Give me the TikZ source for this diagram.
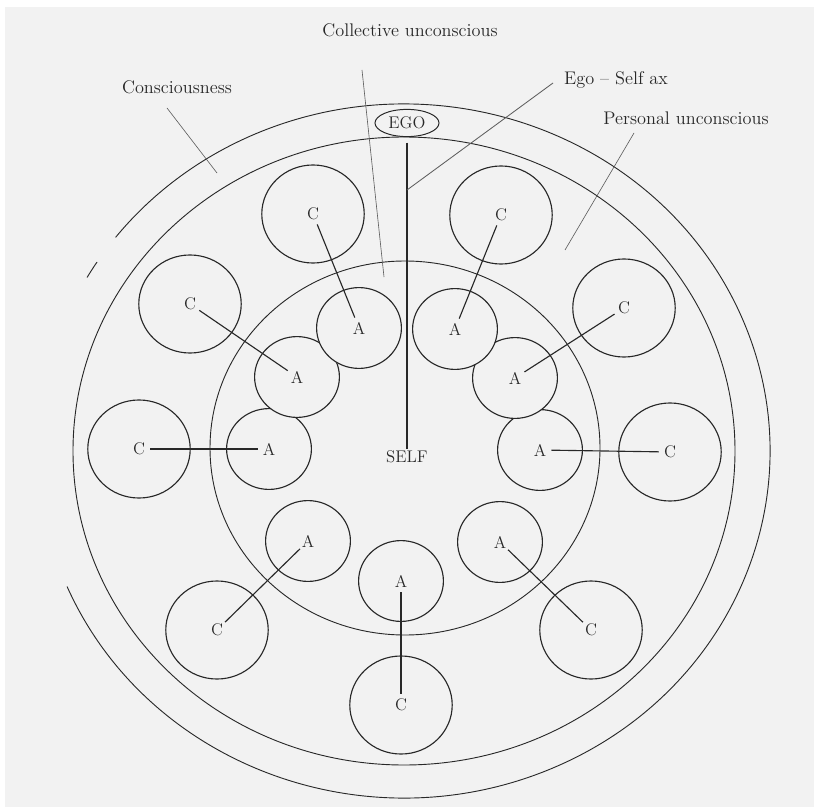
\documentclass[tikz,border=0pt]{standalone}
\usepackage{tikz}
\usetikzlibrary{shapes.geometric}
\definecolor{paper}{RGB}{242,242,242}
\definecolor{ink}{RGB}{40,40,40}

\begin{document}
\begin{tikzpicture}[x=0.025cm, y=-0.025cm, color=ink,
    cnode/.style = {draw=ink, line width=0.8pt, ellipse, minimum width=2.56cm, minimum height=2.45cm, inner sep=0pt, font=\fontsize{12}{14}\selectfont},
    anode/.style = {draw=ink, fill=paper, line width=0.8pt, ellipse, minimum width=2.12cm, minimum height=2.02cm, inner sep=0pt, font=\fontsize{12}{14}\selectfont},
    egonode/.style = {draw=ink, fill=paper, line width=0.7pt, ellipse, minimum width=1.6cm, minimum height=0.68cm, inner sep=0pt, font=\fontsize{12}{14}\selectfont},
    tag/.style = {inner sep=1pt, font=\fontsize{13}{15}\selectfont},
    ring/.style = {line width=0.65pt},
    link/.style = {line width=0.8pt, shorten <=8pt, shorten >=8pt},
    leader/.style = {line width=0.45pt, ink!75}]
    \useasboundingbox (0,0) rectangle (814,807);
    \fill[white] (0,0) rectangle (814,807);
    \fill[paper] (5,7) rectangle (814,807);

    \coordinate (o) at (404,451);
    \coordinate (oi) at (405,448);
    \draw[ring] (o) ++(157:366 and 347) arc[start angle=157, end angle=-142, x radius=366, y radius=347];
    \draw[ring] (o) ++(-147:366 and 347) arc[start angle=-147, end angle=-150, x radius=366, y radius=347];
    \draw[ring] (o) ellipse [x radius=331, y radius=314];
    \draw[ring] (oi) ellipse [x radius=195, y radius=187];

    \node[tag] (cu) at (410,30) {Collective unconscious};
    \node[tag] (cons) at (177,87) {Consciousness};
    \node[tag] (esax) at (616,80) {Ego -- Self ax};
    \node[tag] (pu) at (686,118) {Personal unconscious};

    \coordinate (cutop) at (362,70);
    \coordinate (cubot) at (384,277);
    \coordinate (constop) at (167,108);
    \coordinate (consbot) at (217,173);
    \coordinate (estop) at (553,83);
    \coordinate (axpt) at (407,190);
    \coordinate (putop) at (634,133);
    \coordinate (pubot) at (565,250);
    \draw[leader] (cutop) -- (cubot);
    \draw[leader] (constop) -- (consbot);
    \draw[leader] (putop) -- (pubot);

    \node[egonode] (ego) at (407,123) {EGO};
    \node[tag, font=\fontsize{12}{14}\selectfont] (self) at (407,457) {SELF};

    \node[cnode] (c1) at (313,214) {C};
    \node[cnode] (c2) at (501,215) {C};
    \node[cnode] (c3) at (190,304) {C};
    \node[cnode] (c4) at (139,449) {C};
    \node[cnode] (c5) at (217,630) {C};
    \node[cnode] (c6) at (401,705) {C};
    \node[cnode] (c7) at (591,630) {C};
    \node[cnode] (c8) at (670,452) {C};
    \node[cnode] (c9) at (624,308) {C};

    \node[anode] (a3) at (269,449) {A};
    \node[anode] (a2) at (297,377) {A};
    \node[anode] (a1) at (359,328) {A};
    \node[anode] (a7) at (540,450) {A};
    \node[anode] (a8) at (515,378) {A};
    \node[anode] (a9) at (455,329) {A};
    \node[anode] (a4) at (308,541) {A};
    \node[anode] (a5) at (401,581) {A};
    \node[anode] (a6) at (500,542) {A};

    \draw[link] (c1.center) -- (a1.center);
    \draw[link] (c2.center) -- (a9.center);
    \draw[link] (c3.center) -- (a2.center);
    \draw[link] (c4.center) -- (a3.center);
    \draw[link] (c5.center) -- (a4.center);
    \draw[link] (c6.center) -- (a5.center);
    \draw[link] (c7.center) -- (a6.center);
    \draw[link] (c8.center) -- (a7.center);
    \draw[link] (c9.center) -- (a8.center);

    \draw[line width=0.8pt, shorten <=4pt] (ego) -- (self);
    \draw[leader, line width=0.6pt] (estop) -- (axpt);
\end{tikzpicture}
\end{document}
